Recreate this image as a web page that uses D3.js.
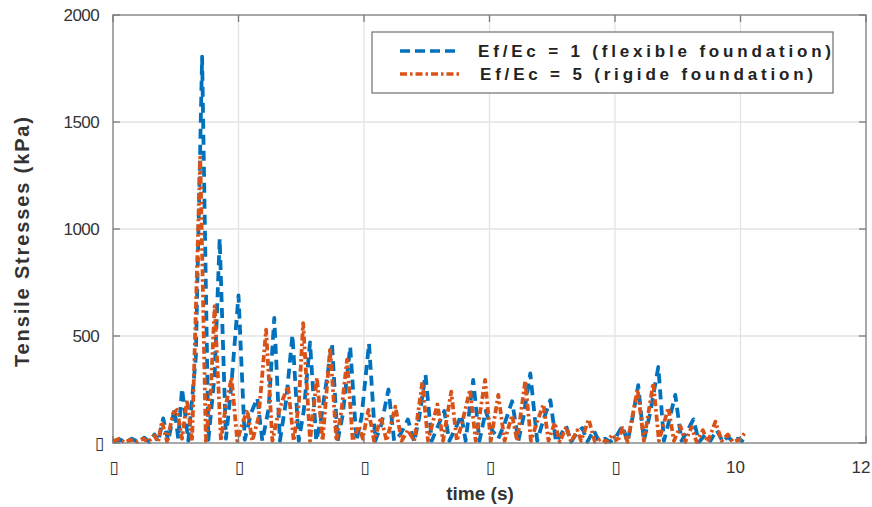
<!DOCTYPE html>
<html>
<head>
<meta charset="utf-8">
<script src="https://cdn.jsdelivr.net/npm/d3@7/dist/d3.min.js"></script>
<style>
  html, body { margin: 0; padding: 0; background: #fff; }
  svg { display: block; }
</style>
</head>
<body>
<svg id="chart" width="872" height="507"></svg>
<script>
// Tensile stress time histories for two foundation stiffness ratios
const timeFlex = [0.00,0.12,0.20,0.30,0.40,0.50,0.58,0.66,0.72,0.80,0.88,0.98,1.04,1.10,1.20,1.32,1.42,1.52,1.62,1.70,1.80,1.88,2.00,2.10,2.20,2.30,2.38,2.48,2.57,2.66,2.76,2.86,2.96,3.04,3.14,3.24,3.32,3.49,3.58,3.66,3.78,3.88,3.96,4.08,4.18,4.28,4.39,4.48,4.58,4.70,4.80,4.88,4.98,5.08,5.18,5.28,5.36,5.46,5.55,5.62,5.74,5.84,5.94,6.04,6.14,6.24,6.36,6.46,6.54,6.65,6.76,6.86,6.97,7.06,7.14,7.22,7.30,7.40,7.48,7.56,7.66,7.74,7.84,7.92,8.02,8.12,8.20,8.28,8.37,8.46,8.56,8.69,8.78,8.86,8.96,9.06,9.14,9.25,9.34,9.44,9.52,9.62,9.72,9.80,9.88,9.96,10.05];
const stressFlex = [5,15,3,20,5,25,5,40,5,115,8,160,20,255,10,400,1805,15,320,955,20,250,690,15,140,210,10,160,585,10,200,505,10,150,470,10,120,465,10,130,450,10,120,465,10,90,250,10,40,110,5,120,320,10,80,150,10,70,130,10,295,10,150,60,20,90,195,10,120,325,10,110,200,5,40,80,5,50,70,5,60,10,20,5,30,80,5,120,270,10,140,355,10,100,225,10,50,110,5,40,10,60,5,30,5,20,5];

const timeRigid = [0.00,0.10,0.18,0.28,0.38,0.48,0.56,0.66,0.72,0.78,0.86,0.96,1.02,1.10,1.18,1.26,1.39,1.48,1.56,1.62,1.72,1.80,1.89,1.98,2.06,2.14,2.22,2.32,2.44,2.54,2.62,2.70,2.79,2.88,2.96,3.03,3.14,3.25,3.34,3.46,3.56,3.64,3.73,3.82,3.92,3.98,4.07,4.16,4.27,4.36,4.50,4.60,4.70,4.80,4.93,5.02,5.17,5.26,5.39,5.48,5.56,5.69,5.78,5.93,6.02,6.14,6.24,6.36,6.44,6.57,6.66,6.76,6.86,6.94,7.04,7.12,7.22,7.30,7.40,7.46,7.58,7.68,7.78,7.86,7.96,8.04,8.12,8.20,8.36,8.46,8.61,8.70,8.85,8.94,9.04,9.12,9.22,9.30,9.40,9.48,9.60,9.70,9.80,9.88,9.98,10.08];
const stressRigid = [8,20,3,15,5,20,5,35,5,100,8,140,155,20,200,10,1335,10,250,640,10,180,305,10,90,155,10,120,530,10,120,200,265,10,180,560,10,305,10,445,10,150,390,10,80,20,155,10,120,10,170,10,60,10,285,10,180,10,240,10,90,250,10,295,10,225,10,130,10,290,10,100,180,10,95,5,75,5,60,10,110,5,20,3,40,5,70,5,250,10,280,10,165,10,80,5,75,5,60,5,100,10,40,5,15,50];

const xTicks = [0, 2, 4, 6, 8, 10, 12];
const xTickLabels = ["\u25AF", "\u25AF", "\u25AF", "\u25AF", "\u25AF", "10", "12"];
const yTicks = [0, 500, 1000, 1500, 2000];
const yTickLabels = ["\u25AF", "500", "1000", "1500", "2000"];
const seriesNames = ["Ef/Ec = 1 (flexible foundation)", "Ef/Ec = 5 (rigide foundation)"];

const svg = d3.select("#chart");
const plotL = 113, plotR = 866, plotT = 15, plotB = 443;

const x = d3.scaleLinear().domain([0, 12]).range([plotL, plotR]);
const y = d3.scaleLinear().domain([0, 2000]).range([plotB, plotT]);

svg.append("rect").attr("width", 872).attr("height", 507).attr("fill", "#fff");

// grid
const grid = svg.append("g").attr("stroke", "#e3e3e3").attr("stroke-width", 1.3);
xTicks.slice(1, -1).forEach(t => {
  grid.append("line").attr("x1", x(t)).attr("x2", x(t)).attr("y1", plotT).attr("y2", plotB);
});
yTicks.slice(1, -1).forEach(t => {
  grid.append("line").attr("x1", plotL).attr("x2", plotR).attr("y1", y(t)).attr("y2", y(t));
});

// series
const line = d3.line().x(d => x(d[0])).y(d => y(d[1]));
const flexPts = timeFlex.map((t, i) => [t, stressFlex[i]]);
const rigidPts = timeRigid.map((t, i) => [t, stressRigid[i]]);

svg.append("path").datum(flexPts).attr("d", line)
  .attr("fill", "none").attr("stroke", "#0072BD").attr("stroke-width", 3.8)
  .attr("stroke-dasharray", "10,6").attr("stroke-linejoin", "round");
svg.append("path").datum(rigidPts).attr("d", line)
  .attr("fill", "none").attr("stroke", "#D95319").attr("stroke-width", 3.8)
  .attr("stroke-dasharray", "7,3,2.5,3").attr("stroke-linejoin", "round");

// axes box with inward ticks
const axisColor = "#7a7a7a";
svg.append("rect").attr("x", plotL).attr("y", plotT).attr("width", plotR - plotL).attr("height", plotB - plotT)
  .attr("fill", "none").attr("stroke", axisColor).attr("stroke-width", 1.3);
const ticks = svg.append("g").attr("stroke", axisColor).attr("stroke-width", 1.3);
xTicks.forEach(t => {
  ticks.append("line").attr("x1", x(t)).attr("x2", x(t)).attr("y1", plotB).attr("y2", plotB - 7);
  ticks.append("line").attr("x1", x(t)).attr("x2", x(t)).attr("y1", plotT).attr("y2", plotT + 7);
});
yTicks.forEach(t => {
  ticks.append("line").attr("x1", plotL).attr("x2", plotL + 7).attr("y1", y(t)).attr("y2", y(t));
  ticks.append("line").attr("x1", plotR).attr("x2", plotR - 7).attr("y1", y(t)).attr("y2", y(t));
});

// tick labels
const tickFont = "'Liberation Sans', Arial, sans-serif";
xTicks.forEach((t, i) => {
  const lab = xTickLabels[i];
  const isBox = lab === "\u25AF";
  svg.append("text").attr("x", x(t) + (isBox ? 1 : -5)).attr("y", 473)
    .attr("text-anchor", "middle")
    .attr("font-family", isBox ? "'DejaVu Sans', sans-serif" : tickFont)
    .attr("font-size", 17).attr("fill", "#333").text(lab);
});
yTicks.forEach((t, i) => {
  const lab = yTickLabels[i];
  const isBox = lab === "\u25AF";
  svg.append("text").attr("x", isBox ? 104 : 99).attr("y", y(t) + 6)
    .attr("text-anchor", "end")
    .attr("font-family", isBox ? "'DejaVu Sans', sans-serif" : tickFont)
    .attr("font-size", 17).attr("fill", "#333").attr("letter-spacing", isBox ? 0 : -0.6).text(lab);
});

// axis titles
svg.append("text").attr("x", 480).attr("y", 500).attr("text-anchor", "middle")
  .attr("font-family", tickFont).attr("font-weight", "bold").attr("font-size", 19)
  .attr("fill", "#333").text("time (s)");
svg.append("text").attr("transform", "translate(29,242) rotate(-90)").attr("text-anchor", "middle")
  .attr("font-family", tickFont).attr("font-weight", "bold").attr("font-size", 20)
  .attr("fill", "#333").attr("textLength", 250).attr("lengthAdjust", "spacing")
  .text("Tensile Stresses (kPa)");

// legend
const lg = svg.append("g");
lg.append("rect").attr("x", 372).attr("y", 32).attr("width", 461).attr("height", 61)
  .attr("fill", "#fff").attr("stroke", axisColor).attr("stroke-width", 1.3);
const legendRows = [
  { name: seriesNames[0], color: "#0072BD", dash: "10,5", yy: 51, tx: 478, len: 353 },
  { name: seriesNames[1], color: "#D95319", dash: "7,3,2.5,3", yy: 74, tx: 480, len: 333 }
];
legendRows.forEach(r => {
  lg.append("line").attr("x1", 400).attr("x2", 460).attr("y1", r.yy).attr("y2", r.yy)
    .attr("stroke", r.color).attr("stroke-width", 3.6).attr("stroke-dasharray", r.dash);
  lg.append("text").attr("x", r.tx).attr("y", r.yy + 6)
    .attr("font-family", tickFont).attr("font-weight", "bold").attr("font-size", 17)
    .attr("fill", "#222").attr("textLength", r.len).attr("lengthAdjust", "spacing").text(r.name);
});
</script>
</body>
</html>
